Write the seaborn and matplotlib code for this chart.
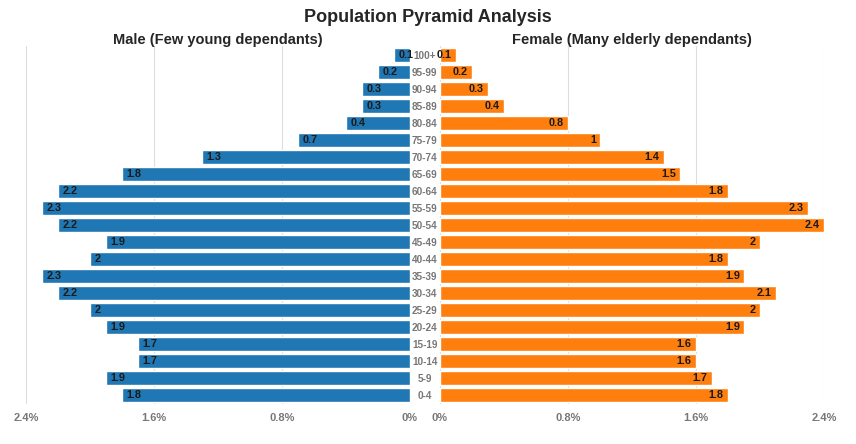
import matplotlib
matplotlib.use('Agg')
import matplotlib.pyplot as plt
import seaborn as sns
import pandas as pd

sns.set_style('white')
plt.rcParams['font.family'] = ['Liberation Sans', 'DejaVu Sans']

# dati
age_groups = ['100+', '95-99', '90-94', '85-89', '80-84', '75-79', '70-74', '65-69',
              '60-64', '55-59', '50-54', '45-49', '40-44', '35-39', '30-34', '25-29',
              '20-24', '15-19', '10-14', '5-9', '0-4']
male = [0.1, 0.2, 0.3, 0.3, 0.4, 0.7, 1.3, 1.8, 2.2, 2.3, 2.2, 1.9, 2, 2.3, 2.2, 2,
        1.9, 1.7, 1.7, 1.9, 1.8]
female = [0.1, 0.2, 0.3, 0.4, 0.8, 1, 1.4, 1.5, 1.8, 2.3, 2.4, 2, 1.8, 1.9, 2.1, 2,
          1.9, 1.6, 1.6, 1.7, 1.8]
xticks = [0, 0.8, 1.6, 2.4]
xticklabels = ['0%', '0.8%', '1.6%', '2.4%']

df = pd.DataFrame({'age': age_groups, 'male': male, 'female': female})

fig = plt.figure(figsize=(8.56, 4.44), dpi=100)
W, H = 856, 444
bottom = 1 - 403.5 / H
height = 357 / H
ax_m = fig.add_axes([26 / W, bottom, 384 / W, height])
ax_f = fig.add_axes([440 / W, bottom, 384 / W, height])

sns.barplot(data=df, x='male', y='age', orient='h', color='#1f77b4', saturation=1,
            width=0.78, ax=ax_m)
sns.barplot(data=df, x='female', y='age', orient='h', color='#ff7f0e', saturation=1,
            width=0.78, ax=ax_f)

for ax in (ax_m, ax_f):
    ax.set_xlim(0, 2.4)
    ax.set_ylim(20.5, -0.5)
    ax.set_xticks(xticks)
    ax.set_xticklabels(xticklabels, color='#777777', fontsize=8, fontweight='bold')
    ax.tick_params(axis='x', length=0, pad=7)
    ax.grid(axis='x', color='#dddddd', linewidth=0.8)
    ax.set_axisbelow(True)
    ax.set_xlabel('')
    ax.set_ylabel('')
    sns.despine(ax=ax, left=True, bottom=True)

ax_m.invert_xaxis()
ax_m.set_yticks([])

ax_f.set_yticks(range(len(age_groups)))
ax_f.set_yticklabels(age_groups, color='#777777', fontsize=7.2, fontweight='bold', ha='center')
ax_f.tick_params(axis='y', length=0, pad=11)

# etichette sulle barre
for i, v in enumerate(male):
    ax_m.annotate(f'{v:g}', (v, i), xytext=(3, 0), textcoords='offset points',
                  ha='left', va='center', fontsize=7.8, fontweight='bold', color='#1a1a1a')
for i, v in enumerate(female):
    ax_f.annotate(f'{v:g}', (v, i), xytext=(-3, 0), textcoords='offset points',
                  ha='right', va='center', fontsize=7.8, fontweight='bold', color='#1a1a1a')

ax_m.set_title('Male (Few young dependants)', fontsize=10.5, fontweight='bold', pad=1.5)
ax_f.set_title('Female (Many elderly dependants)', fontsize=10.5, fontweight='bold', pad=1.5)
fig.suptitle('Population Pyramid Analysis', fontsize=13, fontweight='bold', y=1 - 17 / H, va='center')

fig.savefig('out.png', dpi=100)
